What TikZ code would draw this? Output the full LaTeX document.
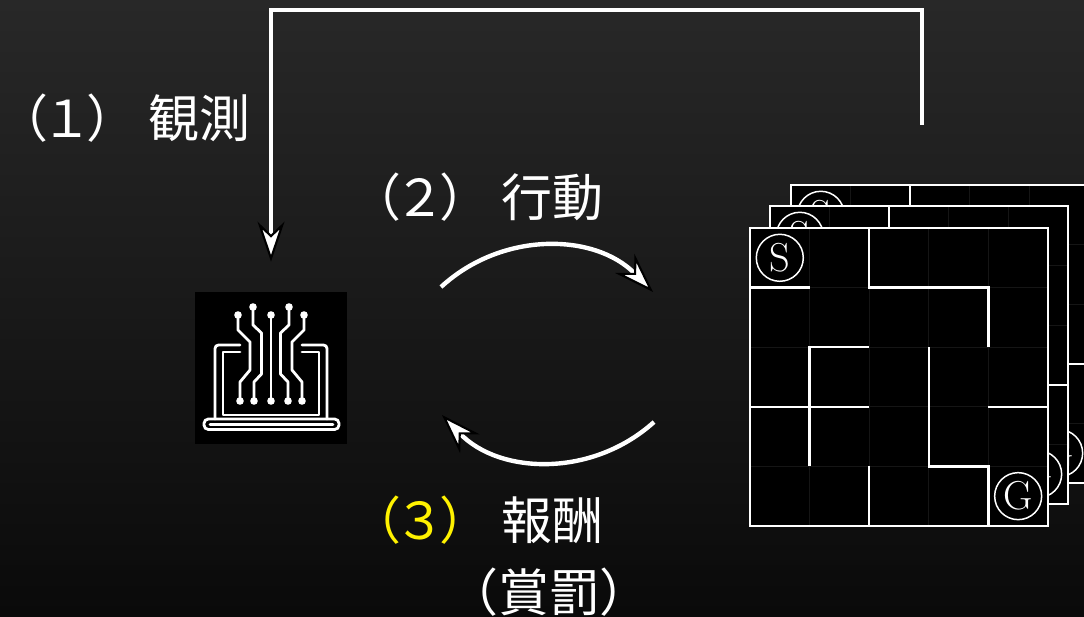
\documentclass[tikz,border=0pt]{standalone}
\usepackage{fontspec}
\newfontfamily\jpfont{Noto Sans CJK JP}
\usetikzlibrary{arrows.meta}
\definecolor{bgtop}{HTML}{282828}
\definecolor{bgbottom}{HTML}{0A0A0A}
\definecolor{rewardyellow}{HTML}{FFF200}
\definecolor{gridgray}{HTML}{151515}
\newcommand{\stepno}[1]{（\kern-0.13em#1\kern-0.13em）}

\begin{document}
\begin{tikzpicture}[x=0.02cm,y=0.02cm,
    >={Stealth[length=0.8cm,width=0.54cm,inset=0.26cm,fill=white,color=black,line width=1.2pt]},
    steptext/.style={text=white,font=\jpfont\fontsize{29}{32}\selectfont,inner sep=0pt},
    feedback/.style={->,white,line width=2.3pt,shorten >=0.6cm},
    cyclearrow/.style={->,white,line width=2.5pt},
    wall/.style={white,line width=1.4pt},
    iconline/.style={white,line width=1.6pt,line cap=round,line join=round},
    endmark/.style={circle,draw=white,line width=0.85pt,minimum size=0.94cm,inner sep=0pt,
                    text=white,font=\fontsize{23}{23}\selectfont}]
    \useasboundingbox (0,0) rectangle (1084,616);
    \clip (0,0) rectangle (1084,616);
    \shade[top color=bgtop,bottom color=bgbottom] (0,0) rectangle (1084,616);

    % agent: laptop with circuit traces
    \node[fill=black,minimum size=3.04cm,inner sep=0pt] (agent) at (271,248) {};
    \begin{scope}[shift={(agent.center)}]
        \draw[iconline,rounded corners=2pt] (-31,23) -- (-56,23) -- (-56,-51);
        \draw[iconline,rounded corners=2pt] (31,23) -- (56,23) -- (56,-51);
        \draw[iconline] (-31,16) -- (-48,16) -- (-48,-47) -- (48,-47) -- (48,16) -- (31,16);
        \draw[iconline,rounded corners=2.5pt] (-67,-51) -- (-67,-61.5) -- (68,-61.5) -- (68,-51) -- cycle;
        \draw[iconline] (-61,-56.5) -- (62,-56.5);
        \draw[iconline] (0,53) -- (0,-33);
        \fill[white] (0,53) circle (3.8) (0,-33) circle (3.8);
        \foreach \s in {-1,1}{
            \draw[iconline] (\s*33,53) -- (\s*33,38) -- (\s*21,26) -- (\s*21,-2) -- (\s*31,-14) -- (\s*31,-33);
            \draw[iconline] (\s*18,61) -- (\s*18,43) -- (\s*9.5,35) -- (\s*9.5,-6) -- (\s*17,-14) -- (\s*17,-33);
            \fill[white] (\s*33,53) circle (3.8) (\s*31,-33) circle (3.8)
                         (\s*18,61) circle (3.8) (\s*17,-33) circle (3.8);
        }
    \end{scope}

    % environment: three stacked mazes, back to front
    \foreach \dx/\dy [count=\i] in {41/43,20/22,0/0}{
        \begin{scope}[shift={(750+\dx,388+\dy)},x=1.192cm,y=-1.192cm]
            \fill[black] (0,0) rectangle (5,5);
            \foreach \k in {1,...,4}
                \draw[gridgray,line width=0.5pt] (\k,0) -- (\k,5) (0,\k) -- (5,\k);
            \draw[wall] (0,0) rectangle (5,5);
            \draw[wall] (0,1) -- (1,1);
            \draw[wall] (2,0) -- (2,1) -- (4,1) -- (4,2);
            \draw[wall] (2,2) -- (1,2) -- (1,4);
            \draw[wall] (3,2) -- (3,4) -- (4,4) -- (4,5);
            \draw[wall] (0,3) -- (2,3) (4,3) -- (5,3);
            \draw[wall] (2,4) -- (2,5);
            \node[endmark] (start\i) at (0.5,0.5) {S};
            \node[endmark] (goal\i) at (4.5,4.5) {G};
        \end{scope}
    }

    % (1) observation goes back over the top
    \coordinate (obsfrom) at (922,491);
    \draw[feedback] (obsfrom) -- ++(0,115) -| (agent);
    \node[steptext] (obs) at (124,498) {\stepno{１} 観測};

    % (2) action and (3) reward
    \coordinate (actfrom) at (441,329);
    \coordinate (actto) at (653,324);
    \draw[cyclearrow] (actfrom) to[bend left=44] (actto);
    \node[steptext] (act) at (477,419) {\stepno{２} 行動};

    \coordinate (rewfrom) at (654,194);
    \coordinate (rewto) at (442,201);
    \draw[cyclearrow] (rewfrom) to[bend left=44] (rewto);
    \node[steptext] (rew) at (477,96) {\textcolor{rewardyellow}{\stepno{３}} 報酬};
    \node[steptext] (pun) at (549,24) {（賞罰）};
\end{tikzpicture}
\end{document}
